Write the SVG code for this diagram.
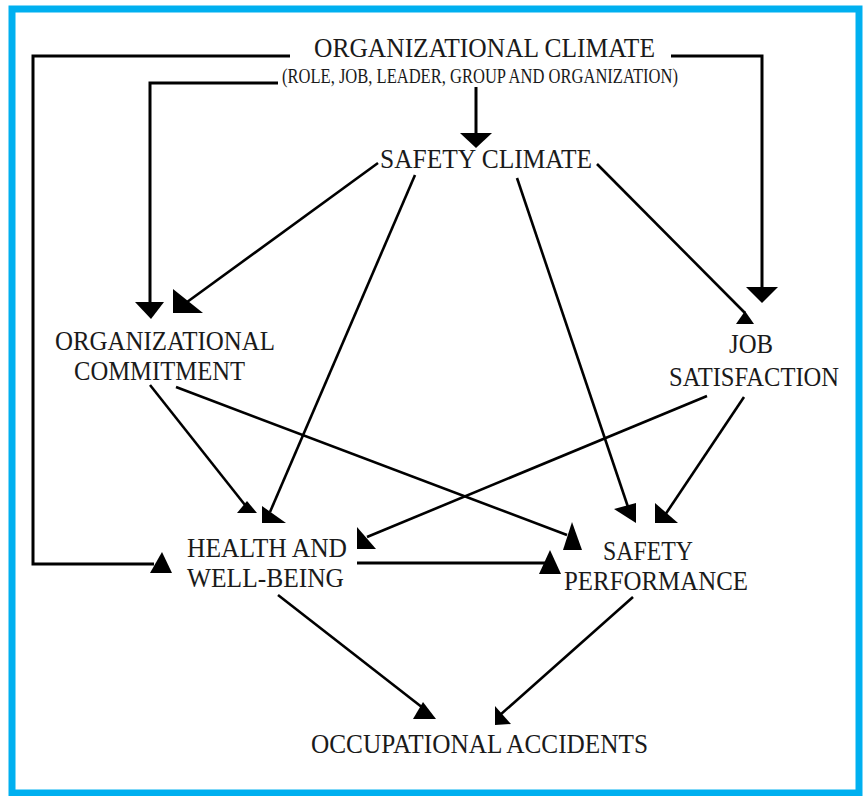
<svg xmlns="http://www.w3.org/2000/svg" width="863" height="796" viewBox="0 0 863 796">
<style>
.t{font-family:"Liberation Serif","Times New Roman",serif;font-size:28px;fill:#1a1a1a}
.s{font-size:20px}
.ln{stroke:#000;stroke-width:3;fill:none}
.dl{stroke:#000;stroke-width:2.6;fill:none}
.ah{fill:#000;stroke:none}
</style>
<rect x="0" y="0" width="863" height="796" fill="#fff"/>
<rect x="12" y="9" width="847" height="784" fill="none" stroke="#00b0f0" stroke-width="7"/>
<g id="connectors">
<polyline class="ln" points="290,56 33,56 33,564 154,564"/>
<polyline class="ln" points="671,56 762,56 762,290"/>
<polyline class="ln" points="278,83 150,83 150,305"/>
<line class="ln" x1="476" y1="87" x2="476" y2="136"/>
<line class="ln" x1="357" y1="563" x2="545" y2="563"/>
<line class="dl" x1="378" y1="163" x2="183" y2="305"/>
<line class="dl" x1="415" y1="175" x2="270" y2="512"/>
<line class="dl" x1="517" y1="178" x2="628" y2="507"/>
<line class="dl" x1="597" y1="164" x2="745" y2="313"/>
<line class="dl" x1="150" y1="385" x2="245" y2="505"/>
<line class="dl" x1="176" y1="387" x2="567" y2="535"/>
<line class="dl" x1="707" y1="396" x2="367" y2="537"/>
<line class="dl" x1="744" y1="397" x2="665" y2="515"/>
<line class="dl" x1="278" y1="595" x2="423" y2="708"/>
<line class="dl" x1="633" y1="597" x2="500" y2="715"/>
<polygon class="ah" points="135,302 164,302 151,319"/>
<polygon class="ah" points="173,289 173,313 203,313"/>
<polygon class="ah" points="746,287 778,287 762,303"/>
<polygon class="ah" points="745,311 736,324 754,324"/>
<polygon class="ah" points="460,133 492,133 476,148"/>
<polygon class="ah" points="247,501 237,513 257,513"/>
<polygon class="ah" points="262,506 262,523 286,523"/>
<polygon class="ah" points="162,552 150,573 172,573"/>
<polygon class="ah" points="357,527 357,549 376,549"/>
<polygon class="ah" points="572,522 563,550 582,550"/>
<polygon class="ah" points="550,550 539,574 561,574"/>
<polygon class="ah" points="614,509 636,503 636,523"/>
<polygon class="ah" points="655,503 655,523 678,523"/>
<polygon class="ah" points="423,702 413,719 436,719"/>
<polygon class="ah" points="495,706 495,725 511,724"/>
</g>
<g id="organizational-climate">
<text class="t" x="314" y="57" textLength="341" lengthAdjust="spacingAndGlyphs">ORGANIZATIONAL CLIMATE</text>
<text class="t s" x="282" y="83" textLength="396" lengthAdjust="spacingAndGlyphs">(ROLE, JOB, LEADER, GROUP AND ORGANIZATION)</text>
</g>
<g id="safety-climate">
<text class="t" x="380" y="168" textLength="212" lengthAdjust="spacingAndGlyphs">SAFETY CLIMATE</text>
</g>
<g id="organizational-commitment">
<text class="t" x="55" y="350" textLength="220" lengthAdjust="spacingAndGlyphs">ORGANIZATIONAL</text>
<text class="t" x="74" y="380" textLength="171" lengthAdjust="spacingAndGlyphs">COMMITMENT</text>
</g>
<g id="job-satisfaction">
<text class="t" x="729" y="353" textLength="44" lengthAdjust="spacingAndGlyphs">JOB</text>
<text class="t" x="669" y="386" textLength="170" lengthAdjust="spacingAndGlyphs">SATISFACTION</text>
</g>
<g id="health-and-well-being">
<text class="t" x="187" y="557" textLength="160" lengthAdjust="spacingAndGlyphs">HEALTH AND</text>
<text class="t" x="187" y="587" textLength="157" lengthAdjust="spacingAndGlyphs">WELL-BEING</text>
</g>
<g id="safety-performance">
<text class="t" x="603" y="560" textLength="90" lengthAdjust="spacingAndGlyphs">SAFETY</text>
<text class="t" x="564" y="590" textLength="184" lengthAdjust="spacingAndGlyphs">PERFORMANCE</text>
</g>
<g id="occupational-accidents">
<text class="t" x="311" y="753" textLength="337" lengthAdjust="spacingAndGlyphs">OCCUPATIONAL ACCIDENTS</text>
</g>
</svg>
